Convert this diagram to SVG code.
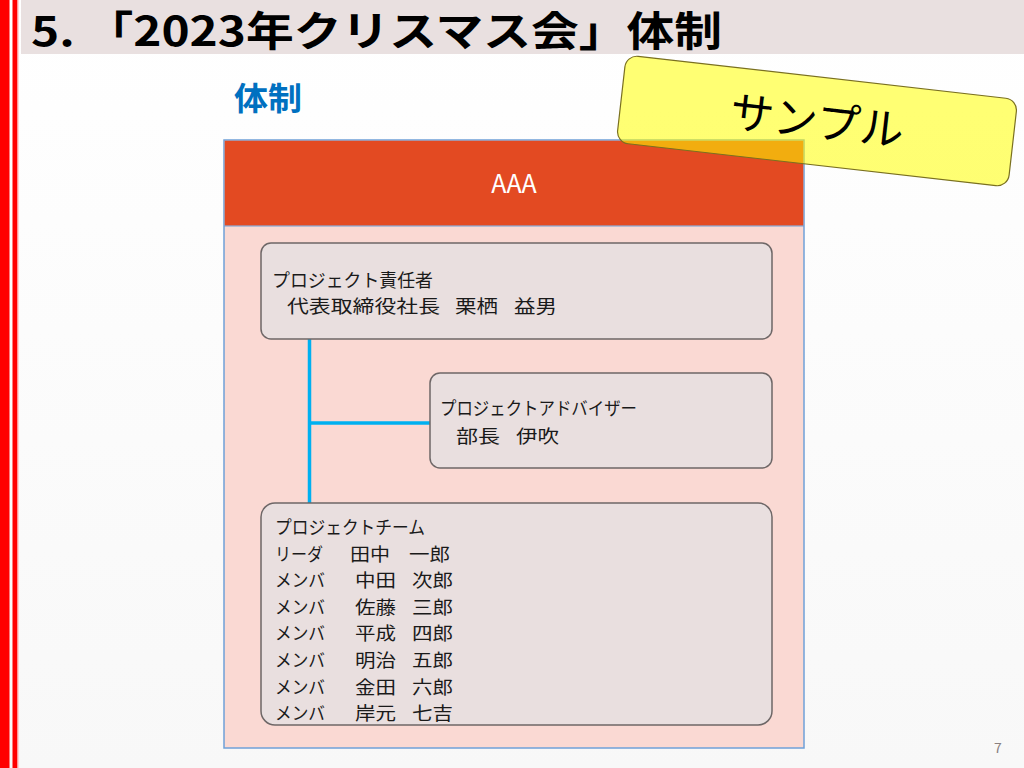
<svg xmlns="http://www.w3.org/2000/svg" width="1024" height="768" viewBox="0 0 1024 768">
<defs>
<linearGradient id="bg" x1="0" y1="0" x2="0" y2="1">
<stop offset="0" stop-color="#FFFFFF"/>
<stop offset="1" stop-color="#F8F8F8"/>
</linearGradient>
<style>
.jp{font-family:"Noto Sans CJK JP","Noto Sans",sans-serif;}
.box{fill:#E9DFDF;stroke:#6E6767;stroke-width:1.5;}
.t{font-size:18px;fill:#1A1A1A;}
.conn{stroke:#00B0F0;stroke-width:3.5;fill:none;}
</style>
</defs>
<rect x="0" y="0" width="1024" height="768" fill="url(#bg)"/>
<rect x="0" y="0" width="9.5" height="768" fill="#FF0000"/>
<rect x="12.5" y="0" width="5" height="768" fill="#FF0000"/>
<rect x="17.5" y="0" width="1" height="768" fill="#FFB0B0"/>
<g id="title">
<rect x="21" y="0" width="1003" height="54" fill="#E9E0E0"/>
<text x="31" y="46" class="jp" font-size="41" font-weight="bold" fill="#000" textLength="691" lengthAdjust="spacingAndGlyphs">5. 「2023年クリスマス会」体制</text>
</g>
<text x="234" y="110" class="jp" font-size="32" font-weight="bold" fill="#0070C0" textLength="68" lengthAdjust="spacingAndGlyphs">体制</text>
<g id="frame">
<rect x="224" y="140" width="580" height="608" fill="#FAD9D3" stroke="#6FA0D8" stroke-width="1.5"/>
<rect x="224.75" y="140.75" width="578.5" height="85" fill="#E34A22"/>
<line x1="224" y1="226" x2="804" y2="226" stroke="#6FA0D8" stroke-width="1"/>
<text x="514" y="193" text-anchor="middle" class="jp" font-size="25" fill="#FFFFFF">AAA</text>
</g>
<g id="connectors">
<line class="conn" x1="309.5" y1="339" x2="309.5" y2="503"/>
<line class="conn" x1="309.5" y1="423" x2="430" y2="423"/>
</g>
<g id="leader">
<rect class="box" x="261" y="243" width="511" height="96" rx="10"/>
<text class="jp t" x="272" y="287" textLength="161" lengthAdjust="spacingAndGlyphs">プロジェクト責任者</text>
<text class="jp t" x="287" y="313" textLength="153" lengthAdjust="spacingAndGlyphs">代表取締役社長</text>
<text class="jp t" x="455" y="313" textLength="43" lengthAdjust="spacingAndGlyphs">栗栖</text>
<text class="jp t" x="514" y="313" textLength="43" lengthAdjust="spacingAndGlyphs">益男</text>
</g>
<g id="advisor">
<rect class="box" x="430" y="373" width="342" height="95" rx="10"/>
<text class="jp t" x="440" y="415" textLength="197" lengthAdjust="spacingAndGlyphs">プロジェクトアドバイザー</text>
<text class="jp t" x="456" y="443" textLength="44" lengthAdjust="spacingAndGlyphs">部長</text>
<text class="jp t" x="516" y="443" textLength="43" lengthAdjust="spacingAndGlyphs">伊吹</text>
</g>
<g id="team">
<rect class="box" x="261" y="503" width="511" height="222" rx="14"/>
<text class="jp t" x="275" y="534" textLength="150" lengthAdjust="spacingAndGlyphs">プロジェクトチーム</text>
<text class="jp t" x="275" y="560.6" textLength="48" lengthAdjust="spacingAndGlyphs">リーダ</text>
<text class="jp t" x="350" y="560.6" textLength="40" lengthAdjust="spacingAndGlyphs">田中</text>
<text class="jp t" x="409" y="560.6" textLength="41" lengthAdjust="spacingAndGlyphs">一郎</text>
<text class="jp t" x="275" y="587.2" textLength="50" lengthAdjust="spacingAndGlyphs">メンバ</text>
<text class="jp t" x="355" y="587.2" textLength="41" lengthAdjust="spacingAndGlyphs">中田</text>
<text class="jp t" x="412" y="587.2" textLength="41" lengthAdjust="spacingAndGlyphs">次郎</text>
<text class="jp t" x="275" y="613.8" textLength="50" lengthAdjust="spacingAndGlyphs">メンバ</text>
<text class="jp t" x="355" y="613.8" textLength="41" lengthAdjust="spacingAndGlyphs">佐藤</text>
<text class="jp t" x="412" y="613.8" textLength="41" lengthAdjust="spacingAndGlyphs">三郎</text>
<text class="jp t" x="275" y="640.4" textLength="50" lengthAdjust="spacingAndGlyphs">メンバ</text>
<text class="jp t" x="355" y="640.4" textLength="41" lengthAdjust="spacingAndGlyphs">平成</text>
<text class="jp t" x="412" y="640.4" textLength="41" lengthAdjust="spacingAndGlyphs">四郎</text>
<text class="jp t" x="275" y="667" textLength="50" lengthAdjust="spacingAndGlyphs">メンバ</text>
<text class="jp t" x="355" y="667" textLength="41" lengthAdjust="spacingAndGlyphs">明治</text>
<text class="jp t" x="412" y="667" textLength="41" lengthAdjust="spacingAndGlyphs">五郎</text>
<text class="jp t" x="275" y="693.6" textLength="50" lengthAdjust="spacingAndGlyphs">メンバ</text>
<text class="jp t" x="355" y="693.6" textLength="41" lengthAdjust="spacingAndGlyphs">金田</text>
<text class="jp t" x="412" y="693.6" textLength="41" lengthAdjust="spacingAndGlyphs">六郎</text>
<text class="jp t" x="275" y="720.2" textLength="50" lengthAdjust="spacingAndGlyphs">メンバ</text>
<text class="jp t" x="355" y="720.2" textLength="41" lengthAdjust="spacingAndGlyphs">岸元</text>
<text class="jp t" x="412" y="720.2" textLength="41" lengthAdjust="spacingAndGlyphs">七吉</text>
</g>
<g id="sample" transform="translate(817,121) rotate(6.5)">
<rect x="-197" y="-44" width="394" height="88" rx="12" fill="#FFFF00" fill-opacity="0.55" stroke="#7A7020" stroke-width="1.2"/>
<text x="0" y="16" text-anchor="middle" class="jp" font-size="44" fill="#000">サンプル</text>
</g>
<text x="994" y="753" class="jp" font-size="14" fill="#8A8080">7</text>
</svg>
